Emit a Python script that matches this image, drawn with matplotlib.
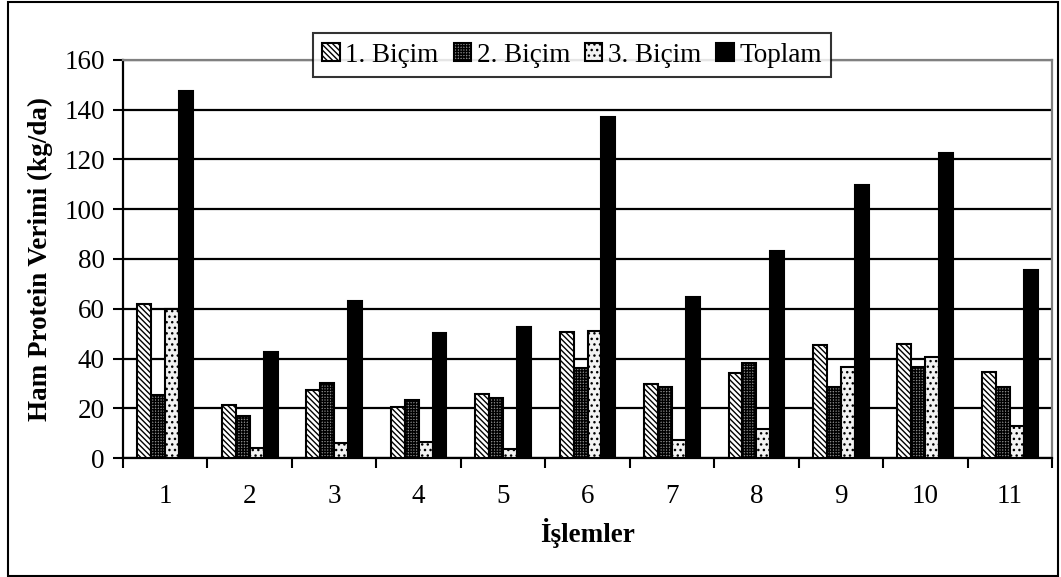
import matplotlib
matplotlib.use("Agg")
import matplotlib.pyplot as plt
from matplotlib.patches import Rectangle
import numpy as np

plt.rcParams['font.family'] = ['Liberation Serif', 'DejaVu Serif']
plt.rcParams['hatch.linewidth'] = 1.0

islemler = ['1', '2', '3', '4', '5', '6', '7', '8', '9', '10', '11']
bicim1 = [62, 21.5, 27.3, 20.6, 25.7, 50.5, 29.6, 34, 45.4, 46, 34.4]
bicim2 = [25.5, 17, 30, 23.3, 24, 36, 28.4, 38, 28.4, 36.4, 28.7]
bicim3 = [60, 4, 5.9, 6.6, 3.6, 51.2, 7.2, 11.8, 36.7, 40.7, 13]
toplam = [147.5, 42.5, 63.2, 50.4, 52.8, 137, 64.6, 83.2, 109.9, 122.7, 75.6]

series = [
    ('1. Biçim', bicim1, 'white', '\\' * 6),
    ('2. Biçim', bicim2, '#8a8a8a', '++++++'),
    ('3. Biçim', bicim3, '#f2f2f2', '...'),
    ('Toplam', toplam, 'black', None),
]

fs = 19.5

fig = plt.figure(figsize=(10.61, 5.77), dpi=100)
ax = fig.add_axes([123 / 1061, 1 - 458 / 577, (1052 - 123) / 1061, (458 - 60) / 577])

x = np.arange(1, len(islemler) + 1)
w = 0.165
for i, (name, vals, fc, hatch) in enumerate(series):
    ax.bar(x + (i - 1.5) * w, vals, width=w, color=fc, hatch=hatch,
           edgecolor='black', linewidth=1.5, label=name, zorder=3)

ax.set_xlim(0.5, 11.5)
ax.set_ylim(0, 160)
ax.set_yticks(range(0, 161, 20))
ax.yaxis.grid(True, color='black', linewidth=1.6, zorder=0)
ax.set_axisbelow(True)

ax.set_xticks(x)
ax.set_xticklabels(islemler)
ax.set_xticks(np.arange(0.5, 11.6, 1), minor=True)
ax.tick_params(axis='x', which='major', length=0, pad=19, labelsize=fs)
ax.tick_params(axis='x', which='minor', length=7, width=1.5, direction='out')
ax.tick_params(axis='y', length=7, width=1.5, direction='out', labelsize=fs, pad=6)

for side in ('left', 'bottom'):
    ax.spines[side].set_color('black')
    ax.spines[side].set_linewidth(1.6)
for side in ('top', 'right'):
    ax.spines[side].set_color('#808080')
    ax.spines[side].set_linewidth(1.6)

ax.set_ylabel('Ham Protein Verimi (kg/da)', fontsize=fs, fontweight='bold', labelpad=8)
ax.set_xlabel('İşlemler', fontsize=fs, fontweight='bold', labelpad=6)

leg = fig.legend(loc='center', bbox_to_anchor=(572 / 1061, 1 - 55 / 577), ncol=4,
                 fontsize=fs, frameon=True, fancybox=False, edgecolor='black',
                 handlelength=0.65, handleheight=0.65, handletextpad=0.2,
                 columnspacing=0.55, borderpad=0.35, borderaxespad=0)
leg.get_frame().set_linewidth(1.5)

fig.patches.append(Rectangle((8 / 1061, 1 / 577), 1050 / 1061, 574 / 577,
                             transform=fig.transFigure, fill=False,
                             edgecolor='black', linewidth=1.5))

fig.savefig('out.png', dpi=100)
